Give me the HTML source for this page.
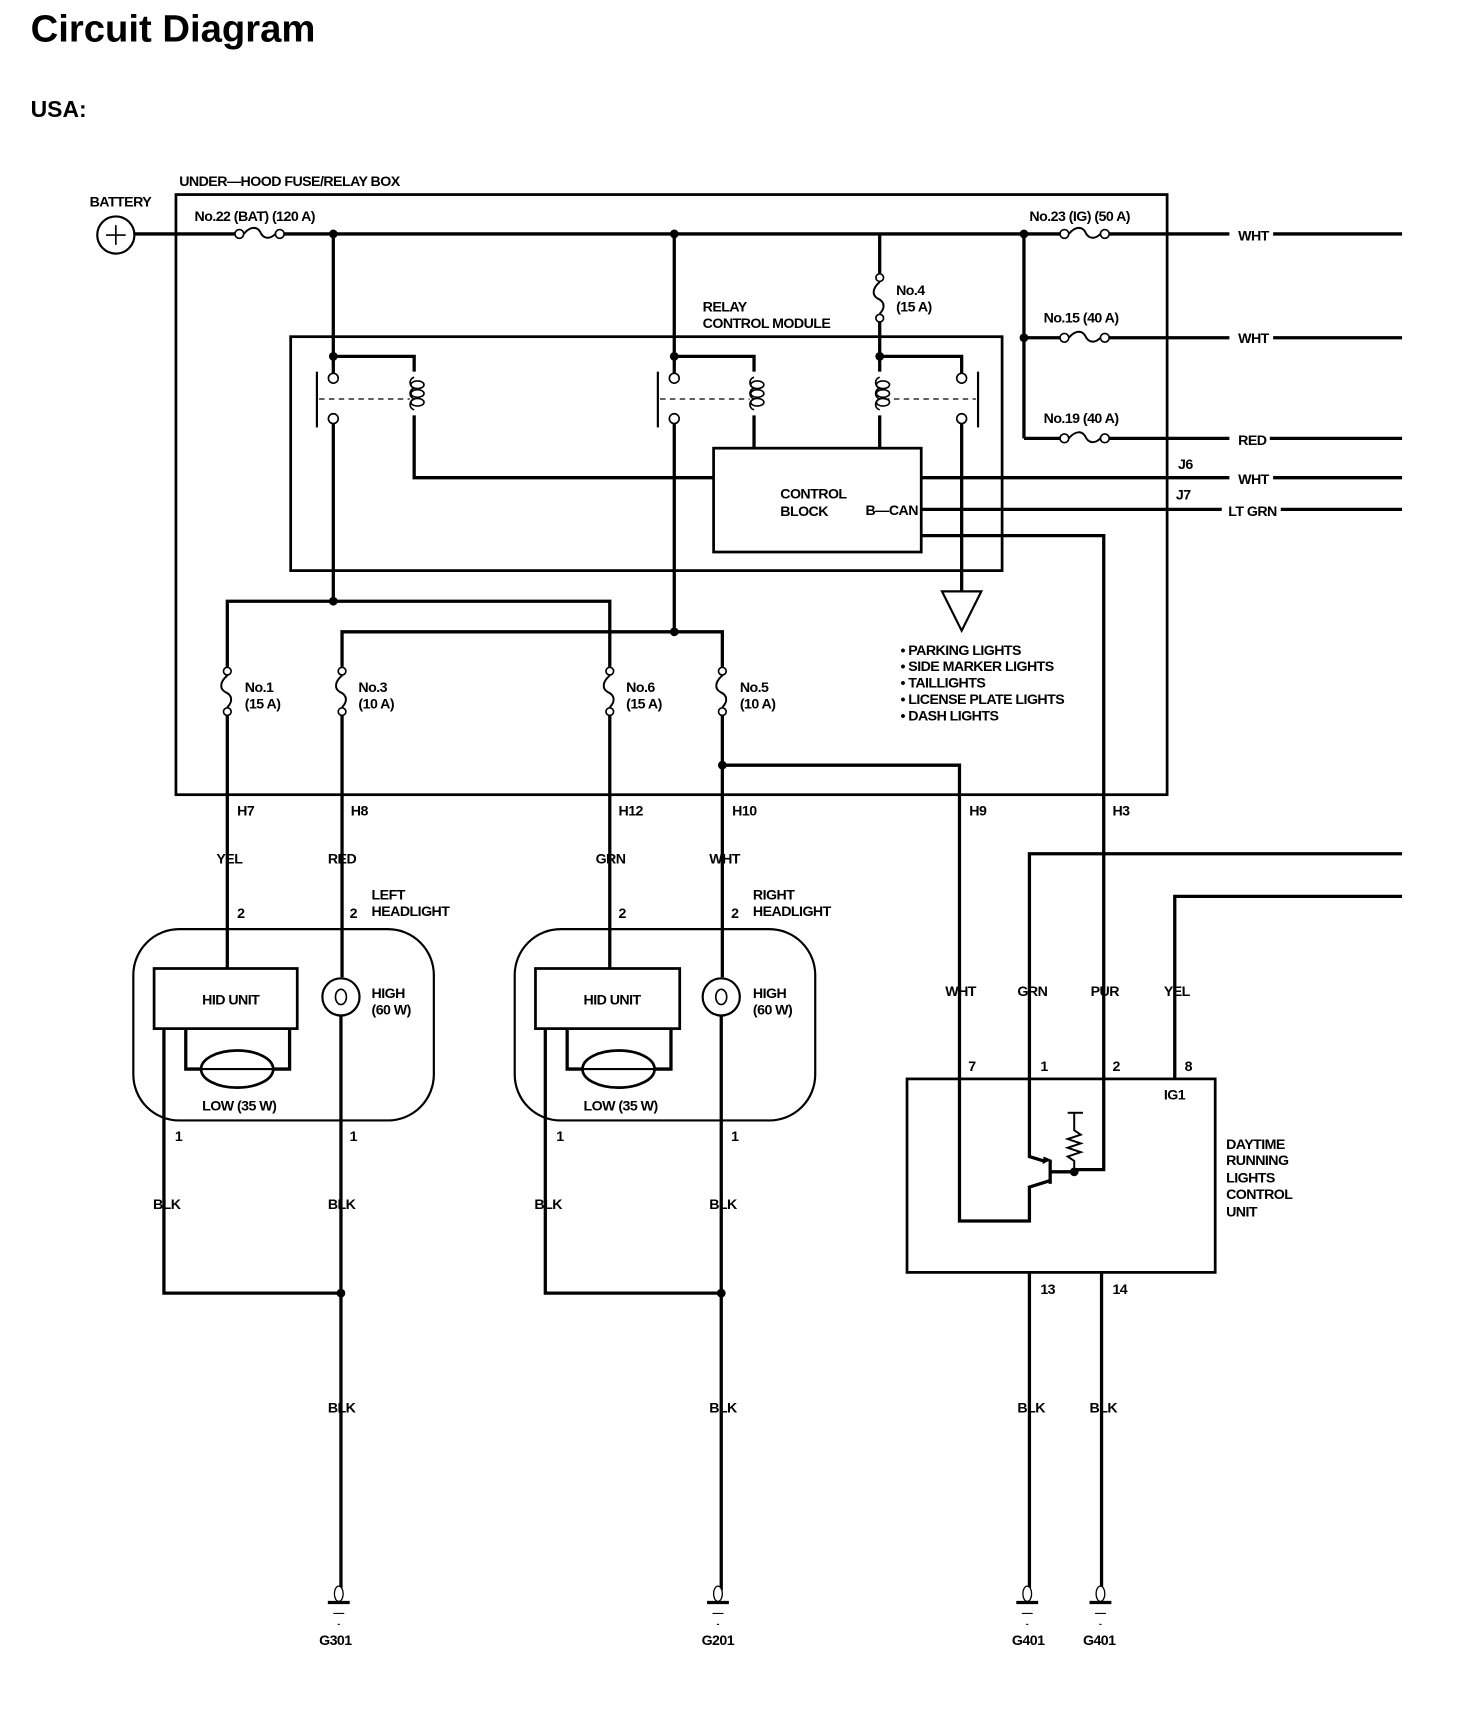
<!DOCTYPE html>
<html><head><meta charset="utf-8"><style>
html,body{margin:0;padding:0;background:#fff;}
svg{display:block;}
text{font-family:"Liberation Sans Narrow","Liberation Sans",sans-serif;font-weight:bold;fill:#000;}
.s{font-size:13px;letter-spacing:-0.5px;}
</style></head><body>
<svg width="1472" height="1714" viewBox="0 0 1347 1568" preserveAspectRatio="none" xmlns="http://www.w3.org/2000/svg">
<defs>
<g id="hf">
<circle cx="4" cy="0" r="4" fill="#fff" stroke="#000" stroke-width="1.5"/>
<circle cx="41" cy="0" r="4" fill="#fff" stroke="#000" stroke-width="1.5"/>
<path d="M8 0 C14 -7 20 -7 23 -2 C26 5 32 5 37 0" fill="none" stroke="#000" stroke-width="1.8"/>
</g>
<g id="vf">
<circle cx="0" cy="4" r="3.5" fill="#fff" stroke="#000" stroke-width="1.5"/>
<circle cx="0" cy="41" r="3.5" fill="#fff" stroke="#000" stroke-width="1.5"/>
<path d="M0 8 C-7 14 -7 20 -2 23 C5 26 5 32 0 37" fill="none" stroke="#000" stroke-width="1.8"/>
</g>
<g id="gnd">
<ellipse cx="0" cy="-4" rx="4" ry="7" fill="#fff" stroke="#000" stroke-width="1.2"/>
<line x1="-10" y1="4" x2="10" y2="4" stroke="#000" stroke-width="3"/>
<line x1="-5" y1="14" x2="5" y2="14" stroke="#000" stroke-width="1"/>
<line x1="-1" y1="24" x2="1" y2="24" stroke="#000" stroke-width="1"/>
</g>
<g id="coil">
<path d="M0 0 C-5 2 -5 8 0 10 M0 10 C-5 12 -5 18 0 20 M0 20 C-5 22 -5 28 0 30" fill="none" stroke="#000" stroke-width="1.5"/>
<ellipse cx="3" cy="7" rx="6" ry="3.5" fill="none" stroke="#000" stroke-width="1.5"/>
<ellipse cx="3" cy="15" rx="6" ry="3.5" fill="none" stroke="#000" stroke-width="1.5"/>
<ellipse cx="3" cy="23" rx="6" ry="3.5" fill="none" stroke="#000" stroke-width="1.5"/>
</g>
</defs>

<text x="28" y="38" style="font-family:'Liberation Sans',sans-serif;font-size:35px;">Circuit Diagram</text>
<text x="28" y="107" style="font-family:'Liberation Sans',sans-serif;font-size:21px;">USA:</text>

<g fill="none" stroke="#000" stroke-width="3">
<rect x="161" y="178" width="907" height="549" stroke-width="2.5"/>
<rect x="266" y="308" width="651" height="214" stroke-width="2.5"/>
<line x1="122" y1="214" x2="215" y2="214"/>
<line x1="260" y1="214" x2="970" y2="214"/>
<line x1="1015" y1="214" x2="1125" y2="214"/>
<line x1="1165" y1="214" x2="1283" y2="214"/>
<line x1="937" y1="214" x2="937" y2="401"/>
<line x1="937" y1="309" x2="970" y2="309"/>
<line x1="1015" y1="309" x2="1125" y2="309"/>
<line x1="1165" y1="309" x2="1283" y2="309"/>
<line x1="937" y1="401" x2="970" y2="401"/>
<line x1="1015" y1="401" x2="1125" y2="401"/>
<line x1="1162" y1="401" x2="1283" y2="401"/>
<line x1="843" y1="437" x2="1125" y2="437"/>
<line x1="1165" y1="437" x2="1283" y2="437"/>
<line x1="843" y1="466" x2="1118" y2="466"/>
<line x1="1172" y1="466" x2="1283" y2="466"/>
<line x1="305" y1="214" x2="305" y2="342"/>
<polyline points="305,326 379,326 379,340"/>
<line x1="305" y1="388" x2="305" y2="550"/>
<polyline points="379,380 379,437 653,437"/>
<line x1="290" y1="340" x2="290" y2="391" stroke-width="2"/>
<line x1="617" y1="214" x2="617" y2="342"/>
<polyline points="617,326 690,326 690,340"/>
<line x1="617" y1="388" x2="617" y2="578"/>
<line x1="690" y1="380" x2="690" y2="410"/>
<line x1="602" y1="340" x2="602" y2="391" stroke-width="2"/>
<line x1="805" y1="214" x2="805" y2="250"/>
<line x1="805" y1="295" x2="805" y2="340"/>
<polyline points="805,326 880,326 880,342"/>
<line x1="805" y1="380" x2="805" y2="410"/>
<line x1="880" y1="388" x2="880" y2="541"/>
<line x1="895" y1="340" x2="895" y2="391" stroke-width="2"/>
<rect x="653" y="410" width="190" height="95" stroke-width="2.5"/>
<polyline points="843,490 1010,490 1010,1070 983,1070"/>
<polygon points="862,541 898,541 880,577" stroke-width="2"/>
<polyline points="305,550 208,550 208,610"/>
<polyline points="305,550 558,550 558,610"/>
<polyline points="313,610 313,578 661,578 661,610"/>
<line x1="208" y1="655" x2="208" y2="886"/>
<line x1="313" y1="655" x2="313" y2="894"/>
<line x1="558" y1="655" x2="558" y2="886"/>
<line x1="661" y1="655" x2="661" y2="894"/>
<polyline points="661,700 878,700 878,1117 942,1117 942,1086 961,1080"/>
<rect x="122" y="850" width="275" height="175" rx="42" stroke-width="2"/>
<rect x="141" y="886" width="131" height="55" stroke-width="2.5"/>
<polyline points="170,941 170,978 184,978"/>
<polyline points="265,941 265,978 250,978"/>
<ellipse cx="217" cy="978" rx="33" ry="17" stroke-width="2.5"/>
<line x1="184" y1="978" x2="250" y2="978" stroke-width="2"/>
<circle cx="312" cy="912" r="17" stroke-width="2"/>
<ellipse cx="312" cy="912" rx="5" ry="7" stroke-width="1.5"/>
<line x1="312" y1="929" x2="312" y2="1455"/>
<polyline points="150,941 150,1183 312,1183"/>
<rect x="471" y="850" width="275" height="175" rx="42" stroke-width="2"/>
<rect x="490" y="886" width="132" height="55" stroke-width="2.5"/>
<polyline points="519,941 519,978 533,978"/>
<polyline points="614,941 614,978 599,978"/>
<ellipse cx="566" cy="978" rx="33" ry="17" stroke-width="2.5"/>
<line x1="533" y1="978" x2="599" y2="978" stroke-width="2"/>
<circle cx="660" cy="912" r="17" stroke-width="2"/>
<ellipse cx="660" cy="912" rx="5" ry="7" stroke-width="1.5"/>
<line x1="660" y1="929" x2="660" y2="1455"/>
<polyline points="499,941 499,1183 660,1183"/>
<rect x="830" y="987" width="282" height="177" stroke-width="2.5"/>
<polyline points="1283,781 942,781 942,1058 955,1062"/>
<polyline points="1283,820 1075,820 1075,987"/>
<line x1="961" y1="1061" x2="961" y2="1083" stroke-width="3"/>
<line x1="961" y1="1072" x2="983" y2="1072"/>
<polyline points="983,1072 983,1062 977,1058 989,1054 977,1050 989,1046 977,1042 989,1038 983,1034 983,1018" stroke-width="1.8"/>
<line x1="977" y1="1018" x2="991" y2="1018" stroke-width="1.8"/>
<line x1="942" y1="1164" x2="942" y2="1455"/>
<line x1="1008" y1="1164" x2="1008" y2="1455"/>
</g>
<circle cx="106" cy="215" r="17" fill="#fff" stroke="#000" stroke-width="2"/>
<line x1="97" y1="215" x2="115" y2="215" stroke="#000" stroke-width="1.5"/>
<line x1="106" y1="206" x2="106" y2="224" stroke="#000" stroke-width="1.5"/>
<g fill="#fff" stroke="#000" stroke-width="1.5">
<circle cx="305" cy="346" r="4.5"/><circle cx="305" cy="383" r="4.5"/>
<circle cx="617" cy="346" r="4.5"/><circle cx="617" cy="383" r="4.5"/>
<circle cx="880" cy="346" r="4.5"/><circle cx="880" cy="383" r="4.5"/>
</g>
<g stroke="#000" stroke-width="1.2" stroke-dasharray="5,4">
<line x1="292" y1="365" x2="375" y2="365"/>
<line x1="604" y1="365" x2="686" y2="365"/>
<line x1="809" y1="365" x2="893" y2="365"/>
</g>
<use href="#coil" x="379" y="345"/>
<use href="#coil" x="690" y="345"/>
<use href="#coil" x="805" y="345"/>
<use href="#hf" x="215" y="214"/>
<use href="#hf" x="970" y="214"/>
<use href="#hf" x="970" y="309"/>
<use href="#hf" x="970" y="401"/>
<use href="#vf" x="805" y="250"/>
<use href="#vf" x="208" y="610"/>
<use href="#vf" x="313" y="610"/>
<use href="#vf" x="558" y="610"/>
<use href="#vf" x="661" y="610"/>
<g fill="#000">
<circle cx="305" cy="214" r="4"/><circle cx="617" cy="214" r="4"/><circle cx="937" cy="214" r="4"/>
<circle cx="937" cy="309" r="4"/><circle cx="305" cy="326" r="4"/><circle cx="617" cy="326" r="4"/>
<circle cx="805" cy="326" r="4"/><circle cx="305" cy="550" r="4"/><circle cx="617" cy="578" r="4"/>
<circle cx="661" cy="700" r="4"/><circle cx="312" cy="1183" r="4"/><circle cx="660" cy="1183" r="4"/>
<circle cx="983" cy="1072" r="4"/>
<polygon points="955,1058 962,1061 954,1065"/>
</g>
<use href="#gnd" x="310" y="1462"/>
<use href="#gnd" x="657" y="1462"/>
<use href="#gnd" x="940" y="1462"/>
<use href="#gnd" x="1007" y="1462"/>

<g class="s">
<text x="164" y="170">UNDER—HOOD FUSE/RELAY BOX</text>
<text x="82" y="189">BATTERY</text>
<text x="178" y="202">No.22 (BAT) (120 A)</text>
<text x="942" y="202">No.23 (IG) (50 A)</text>
<text x="955" y="295">No.15 (40 A)</text>
<text x="955" y="387">No.19 (40 A)</text>
<text x="1133" y="220">WHT</text>
<text x="1133" y="314">WHT</text>
<text x="1133" y="407">RED</text>
<text x="1133" y="443">WHT</text>
<text x="1124" y="472">LT GRN</text>
<text x="1078" y="429">J6</text>
<text x="1076" y="457">J7</text>
<text x="820" y="270">No.4</text>
<text x="820" y="285">(15 A)</text>
<text x="643" y="285">RELAY</text>
<text x="643" y="300">CONTROL MODULE</text>
<text x="714" y="456">CONTROL</text>
<text x="714" y="472">BLOCK</text>
<text x="792" y="471">B—CAN</text>
<text x="824" y="599">• PARKING LIGHTS</text>
<text x="824" y="614">• SIDE MARKER LIGHTS</text>
<text x="824" y="629">• TAILLIGHTS</text>
<text x="824" y="644">• LICENSE PLATE LIGHTS</text>
<text x="824" y="659">• DASH LIGHTS</text>
<text x="224" y="633">No.1</text><text x="224" y="648">(15 A)</text>
<text x="328" y="633">No.3</text><text x="328" y="648">(10 A)</text>
<text x="573" y="633">No.6</text><text x="573" y="648">(15 A)</text>
<text x="677" y="633">No.5</text><text x="677" y="648">(10 A)</text>
<text x="217" y="746">H7</text>
<text x="321" y="746">H8</text>
<text x="566" y="746">H12</text>
<text x="670" y="746">H10</text>
<text x="887" y="746">H9</text>
<text x="1018" y="746">H3</text>
<text x="198" y="790">YEL</text>
<text x="300" y="790">RED</text>
<text x="545" y="790">GRN</text>
<text x="649" y="790">WHT</text>
<text x="217" y="840">2</text><text x="320" y="840">2</text>
<text x="566" y="840">2</text><text x="669" y="840">2</text>
<text x="340" y="823">LEFT</text><text x="340" y="838">HEADLIGHT</text>
<text x="689" y="823">RIGHT</text><text x="689" y="838">HEADLIGHT</text>
<text x="185" y="919">HID UNIT</text>
<text x="534" y="919">HID UNIT</text>
<text x="340" y="913">HIGH</text><text x="340" y="928">(60 W)</text>
<text x="689" y="913">HIGH</text><text x="689" y="928">(60 W)</text>
<text x="185" y="1016">LOW (35 W)</text>
<text x="534" y="1016">LOW (35 W)</text>
<text x="160" y="1044">1</text><text x="320" y="1044">1</text>
<text x="509" y="1044">1</text><text x="669" y="1044">1</text>
<text x="140" y="1106">BLK</text><text x="300" y="1106">BLK</text>
<text x="489" y="1106">BLK</text><text x="649" y="1106">BLK</text>
<text x="300" y="1292">BLK</text><text x="649" y="1292">BLK</text>
<text x="931" y="1292">BLK</text><text x="997" y="1292">BLK</text>
<text x="865" y="911">WHT</text><text x="931" y="911">GRN</text>
<text x="998" y="911">PUR</text><text x="1065" y="911">YEL</text>
<text x="886" y="980">7</text><text x="952" y="980">1</text>
<text x="1018" y="980">2</text><text x="1084" y="980">8</text>
<text x="1065" y="1006">IG1</text>
<text x="1122" y="1051">DAYTIME</text>
<text x="1122" y="1066">RUNNING</text>
<text x="1122" y="1082">LIGHTS</text>
<text x="1122" y="1097">CONTROL</text>
<text x="1122" y="1113">UNIT</text>
<text x="952" y="1184">13</text><text x="1018" y="1184">14</text>
<text x="292" y="1505">G301</text>
<text x="642" y="1505">G201</text>
<text x="926" y="1505">G401</text>
<text x="991" y="1505">G401</text>
</g>
</svg>
</body></html>
